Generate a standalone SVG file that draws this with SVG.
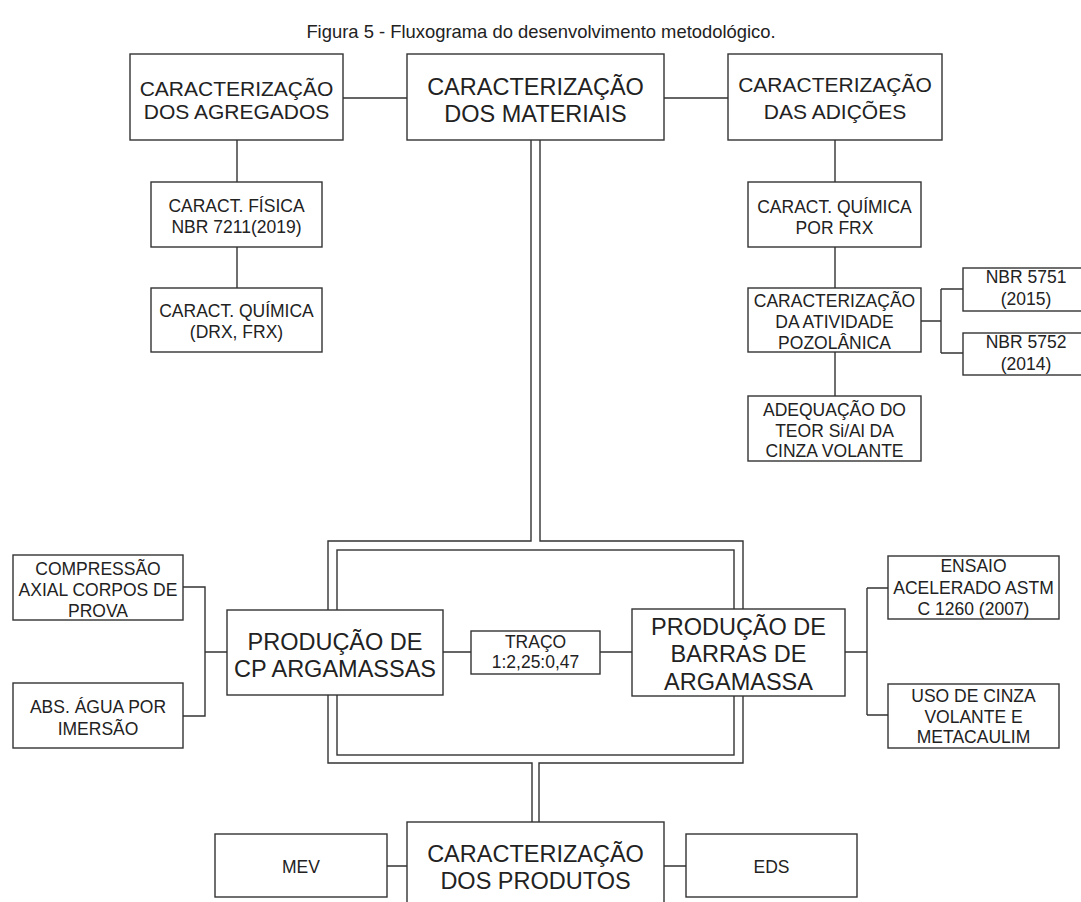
<svg xmlns="http://www.w3.org/2000/svg" width="1081" height="902" viewBox="0 0 1081 902">
<style>
.b{fill:#fff;stroke:#333;stroke-width:1.4}
.c{fill:none;stroke:#333;stroke-width:1.4}
text{font-family:"Liberation Sans",Arial,sans-serif;fill:#222;text-anchor:middle}
.s{font-size:17.5px}
.m{font-size:21px}
.l{font-size:23.5px}
.t{font-size:18.4px}
</style>
<rect width="1081" height="902" fill="#fff"/>
<text class="t" x="541" y="38">Figura 5 - Fluxograma do desenvolvimento metodológico.</text>
<g id="connectors">
<path class="c" d="M343,98H407M664,98H728"/>
<path class="c" d="M237,140V182M237,247V288"/>
<path class="c" d="M835,140V182M835,247V288M835,352V396"/>
<path class="c" d="M921,321H941M941,289V353M941,289H963M941,353H963"/>
<path class="c" d="M531,140V541H328V763H532V822"/>
<path class="c" d="M540,140V541H743V763H539V822"/>
<rect class="c" x="337" y="550" width="397" height="205"/>
<path class="c" d="M183,587H205V716H183M205,652H227"/>
<path class="c" d="M443,652H471M600,652H632"/>
<path class="c" d="M845,652H867M867,588V715M867,588H888M867,715H888"/>
<path class="c" d="M387,866H407M664,866H686"/>
</g>
<g id="agregados"><rect class="b" x="130" y="54" width="213" height="86"/><text class="m" x="236.5" y="96">CARACTERIZAÇÃO</text><text class="m" x="236.5" y="119">DOS AGREGADOS</text></g>
<g id="materiais"><rect class="b" x="407" y="54" width="257" height="86"/><text class="l" x="535.5" y="95">CARACTERIZAÇÃO</text><text class="l" x="535.5" y="122">DOS MATERIAIS</text></g>
<g id="adicoes"><rect class="b" x="728" y="54" width="214" height="86"/><text class="m" x="835" y="92">CARACTERIZAÇÃO</text><text class="m" x="835" y="119">DAS ADIÇÕES</text></g>
<g id="fisica"><rect class="b" x="151" y="182" width="171" height="65"/><text class="s" x="236.5" y="212">CARACT. FÍSICA</text><text class="s" x="236.5" y="233">NBR 7211(2019)</text></g>
<g id="quimica-agr"><rect class="b" x="151" y="288" width="171" height="64"/><text class="s" x="236.5" y="317">CARACT. QUÍMICA</text><text class="s" x="236.5" y="338">(DRX, FRX)</text></g>
<g id="quimica-frx"><rect class="b" x="748" y="182" width="173" height="65"/><text class="s" x="834.5" y="213">CARACT. QUÍMICA</text><text class="s" x="834.5" y="234">POR FRX</text></g>
<g id="pozolanica"><rect class="b" x="748" y="288" width="173" height="64"/><text class="s" x="834.5" y="307">CARACTERIZAÇÃO</text><text class="s" x="834.5" y="328">DA ATIVIDADE</text><text class="s" x="834.5" y="349">POZOLÂNICA</text></g>
<g id="adequacao"><rect class="b" x="748" y="396" width="173" height="65"/><text class="s" x="834.5" y="416">ADEQUAÇÃO DO</text><text class="s" x="834.5" y="437">TEOR Si/Al DA</text><text class="s" x="834.5" y="457">CINZA VOLANTE</text></g>
<g id="nbr5751"><rect class="b" x="963" y="268" width="126" height="43"/><text class="s" x="1026" y="283">NBR 5751</text><text class="s" x="1026" y="305">(2015)</text></g>
<g id="nbr5752"><rect class="b" x="963" y="333" width="126" height="42"/><text class="s" x="1026" y="348">NBR 5752</text><text class="s" x="1026" y="370">(2014)</text></g>
<g id="compressao"><rect class="b" x="13" y="555" width="170" height="65"/><text class="s" x="98" y="575">COMPRESSÃO</text><text class="s" x="98" y="596">AXIAL CORPOS DE</text><text class="s" x="98" y="617">PROVA</text></g>
<g id="abs"><rect class="b" x="13" y="683" width="170" height="65"/><text class="s" x="98" y="713">ABS. ÁGUA POR</text><text class="s" x="98" y="735">IMERSÃO</text></g>
<g id="cp"><rect class="b" x="227" y="610" width="216" height="85"/><text class="l" x="335" y="650">PRODUÇÃO DE</text><text class="l" x="335" y="677">CP ARGAMASSAS</text></g>
<g id="traco"><rect class="b" x="471" y="631" width="129" height="43"/><text class="s" x="535.5" y="648">TRAÇO</text><text class="s" x="535.5" y="668">1:2,25:0,47</text></g>
<g id="barras"><rect class="b" x="632" y="609" width="213" height="87"/><text class="l" x="738.5" y="635">PRODUÇÃO DE</text><text class="l" x="738.5" y="662">BARRAS DE</text><text class="l" x="738.5" y="690">ARGAMASSA</text></g>
<g id="ensaio"><rect class="b" x="888" y="556" width="171" height="63"/><text class="s" x="973.5" y="572">ENSAIO</text><text class="s" x="973.5" y="594">ACELERADO ASTM</text><text class="s" x="973.5" y="615">C 1260 (2007)</text></g>
<g id="uso"><rect class="b" x="888" y="684" width="171" height="64"/><text class="s" x="973.5" y="702">USO DE CINZA</text><text class="s" x="973.5" y="723">VOLANTE E</text><text class="s" x="973.5" y="743">METACAULIM</text></g>
<g id="produtos"><rect class="b" x="407" y="822" width="257" height="100"/><text class="l" x="535.5" y="862">CARACTERIZAÇÃO</text><text class="l" x="535.5" y="889">DOS PRODUTOS</text></g>
<g id="mev"><rect class="b" x="215" y="834" width="172" height="63"/><text class="s" x="301" y="873">MEV</text></g>
<g id="eds"><rect class="b" x="686" y="834" width="171" height="63"/><text class="s" x="771.5" y="873">EDS</text></g>
</svg>
